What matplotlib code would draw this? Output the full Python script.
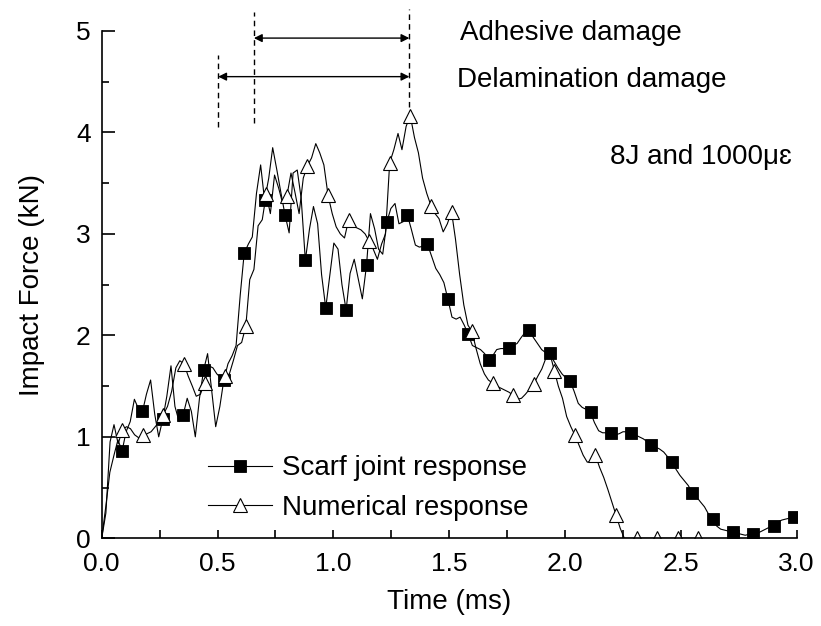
import matplotlib
matplotlib.use("Agg")
import matplotlib.pyplot as plt
from matplotlib.ticker import MultipleLocator

plt.rcParams['font.family'] = ['Liberation Sans', 'DejaVu Sans']

# Scarf joint (experiment): time in ms, force in kN
scarf_time = [
    0.000, 0.018, 0.035, 0.053, 0.070, 0.088, 0.105, 0.123, 0.141, 0.158,
    0.176, 0.193, 0.211, 0.229, 0.246, 0.264, 0.281, 0.299, 0.316, 0.334,
    0.352, 0.369, 0.387, 0.404, 0.422, 0.440, 0.457, 0.475, 0.492, 0.510,
    0.527, 0.545, 0.563, 0.580, 0.598, 0.615, 0.633, 0.650, 0.668, 0.686,
    0.703, 0.721, 0.738, 0.756, 0.774, 0.791, 0.809, 0.826, 0.844, 0.861,
    0.879, 0.897, 0.914, 0.932, 0.949, 0.967, 0.985, 1.002, 1.020, 1.037,
    1.055, 1.072, 1.090, 1.108, 1.125, 1.143, 1.160, 1.178, 1.195, 1.213,
    1.231, 1.248, 1.266, 1.283, 1.301, 1.319, 1.336, 1.354, 1.371, 1.389,
    1.406, 1.424, 1.442, 1.459, 1.477, 1.494, 1.512, 1.530, 1.547, 1.565,
    1.582, 1.600, 1.617, 1.635, 1.653, 1.670, 1.688, 1.705, 1.723, 1.740,
    1.758, 1.776, 1.793, 1.811, 1.828, 1.846, 1.863, 1.881, 1.899, 1.916,
    1.934, 1.951, 1.969, 1.987, 2.004, 2.022, 2.039, 2.057, 2.074, 2.092,
    2.110, 2.127, 2.145, 2.162, 2.180, 2.198, 2.215, 2.233, 2.250, 2.268,
    2.285, 2.303, 2.321, 2.338, 2.356, 2.373, 2.391, 2.408, 2.426, 2.444,
    2.461, 2.479, 2.496, 2.514, 2.532, 2.549, 2.567, 2.584, 2.602, 2.619,
    2.637, 2.655, 2.672, 2.690, 2.707, 2.725, 2.743, 2.760, 2.778, 2.795,
    2.813, 2.831, 2.848, 2.866, 2.883, 2.901, 2.918, 2.936, 2.954, 2.971,
    2.989,
]
scarf_force = [
    0.00, 0.32, 0.65, 0.82, 0.97, 0.86,
    1.05, 1.15, 1.37, 1.28, 1.25,
    1.42, 1.56, 1.22, 1.00, 1.18,
    1.40, 1.70, 1.30, 1.15, 1.22,
    1.38, 1.25, 1.00, 1.38, 1.66,
    1.82, 1.45, 1.10, 1.30, 1.56,
    1.72, 1.80, 1.90, 2.40, 2.81,
    2.90, 2.97, 3.40, 3.68, 3.33,
    3.55, 3.85, 3.63, 3.40, 3.19,
    3.01, 3.60, 3.63, 3.35, 2.74,
    3.05, 3.27, 3.10, 2.60, 2.27,
    2.60, 2.91, 2.85, 2.50, 2.25,
    2.61, 2.75, 2.55, 2.36, 2.69,
    3.20, 3.05, 2.85, 2.80, 3.12,
    3.25, 3.30, 3.10, 3.12, 3.19,
    3.05, 2.89, 2.87, 2.88, 2.90,
    2.78, 2.66, 2.60, 2.52, 2.36,
    2.18, 2.16, 2.18, 2.10, 2.01,
    1.90, 1.88, 1.86, 1.82, 1.76,
    1.80, 1.86, 1.87, 1.87, 1.88,
    1.90, 1.92, 1.98, 2.03, 2.05,
    1.98, 1.92, 1.86, 1.83, 1.83,
    1.75, 1.68, 1.62, 1.58, 1.55,
    1.45, 1.33, 1.29, 1.27, 1.24,
    1.14, 1.06, 1.04, 1.04, 1.04,
    1.02, 1.03, 1.05, 1.05, 1.04,
    1.02, 1.00, 0.98, 0.95, 0.92,
    0.90, 0.88, 0.85, 0.80, 0.755,
    0.68, 0.62, 0.57, 0.52, 0.45,
    0.41, 0.36, 0.31, 0.24, 0.19,
    0.12, 0.09, 0.08, 0.07, 0.06,
    0.05, 0.04, 0.03, 0.04, 0.04,
    0.05, 0.07, 0.09, 0.11, 0.12,
    0.16, 0.18, 0.19, 0.20, 0.21,
]

# Numerical model: time in ms, force in kN
num_time = [
    0.000, 0.018, 0.036, 0.053, 0.071, 0.089, 0.107, 0.124, 0.142, 0.160,
    0.178, 0.195, 0.213, 0.231, 0.249, 0.266, 0.284, 0.302, 0.320, 0.337,
    0.355, 0.373, 0.391, 0.408, 0.426, 0.444, 0.462, 0.480, 0.497, 0.515,
    0.533, 0.551, 0.568, 0.586, 0.604, 0.622, 0.639, 0.657, 0.675, 0.693,
    0.710, 0.728, 0.746, 0.764, 0.781, 0.799, 0.817, 0.835, 0.852, 0.870,
    0.888, 0.906, 0.924, 0.941, 0.959, 0.977, 0.995, 1.012, 1.030, 1.048,
    1.066, 1.083, 1.101, 1.119, 1.137, 1.154, 1.172, 1.190, 1.208, 1.225,
    1.243, 1.261, 1.279, 1.296, 1.314, 1.332, 1.350, 1.367, 1.385, 1.403,
    1.421, 1.439, 1.456, 1.474, 1.492, 1.510, 1.527, 1.545, 1.563, 1.581,
    1.598, 1.616, 1.634, 1.652, 1.669, 1.687, 1.705, 1.723, 1.740, 1.758,
    1.776, 1.794, 1.812, 1.829, 1.847, 1.865, 1.883, 1.900, 1.918, 1.936,
    1.954, 1.971, 1.989, 2.007, 2.025, 2.042, 2.060, 2.078, 2.096, 2.114,
    2.131, 2.149, 2.167, 2.185, 2.202, 2.220, 2.238, 2.256, 2.273, 2.291,
    2.309, 2.327, 2.345, 2.362, 2.380, 2.398, 2.416, 2.434, 2.451, 2.469,
    2.487, 2.505, 2.522, 2.540, 2.558, 2.575,
]
num_force = [
    0.00, 0.25, 0.95, 1.12, 0.93, 1.07,
    1.10, 1.08, 1.02, 0.99, 1.02,
    1.03, 1.05, 1.10, 1.15, 1.22,
    1.30, 1.45, 1.68, 1.75, 1.72,
    1.60, 1.50, 1.40, 1.42, 1.53,
    1.70, 1.68, 1.62, 1.58, 1.60,
    1.62, 1.75, 1.90, 1.93, 2.09,
    2.55, 2.65, 3.08, 3.14, 3.39,
    3.20, 3.58, 3.45, 3.30, 3.37,
    3.60, 3.40, 3.20, 3.55, 3.67,
    3.75, 3.89, 3.80, 3.68, 3.38,
    3.20, 3.07, 3.00, 2.96, 3.14,
    3.08, 3.06, 3.04, 3.00, 2.93,
    2.85, 2.75, 2.90, 3.00, 3.70,
    3.83, 3.99, 3.83, 4.06, 4.165,
    3.95, 3.80, 3.55, 3.40, 3.28,
    3.20, 3.15, 3.02, 3.10, 3.22,
    2.95, 2.60, 2.30, 2.10, 2.04,
    1.87, 1.72, 1.62, 1.56, 1.53,
    1.50, 1.48, 1.46, 1.44, 1.41,
    1.37, 1.38, 1.42, 1.47, 1.52,
    1.60, 1.67, 1.78, 1.81, 1.65,
    1.50, 1.38, 1.20, 1.10, 1.02,
    0.92, 0.82, 0.75, 0.76, 0.82,
    0.70, 0.60, 0.48, 0.36, 0.23,
    0.10, 0.00, 0.00, 0.00, 0.00,
    0.00, 0.00, 0.00, 0.00, 0.00,
    0.00, 0.00, 0.00, 0.00, 0.00,
    0.00, 0.00, 0.00, 0.00, 0.00,
]

series_labels = ["Scarf joint response", "Numerical response"]

# Damage windows (ms) and the heights of their arrows (kN)
adhesive_start, adhesive_end, adhesive_level = 0.657, 1.328, 4.93
delam_start, delam_end, delam_level = 0.503, 1.328, 4.55

fig = plt.figure(figsize=(8.21, 6.26), dpi=100)
ax = fig.add_axes([0.1239, 0.1401, 0.8465, 0.8104])

ax.plot(scarf_time, scarf_force, color='black', lw=0.8,
        marker='s', ms=8.6, mfc='black', mec='black', mew=0.6,
        markevery=(5, 5), label=series_labels[0])
ax.plot(num_time, num_force, color='black', lw=0.8,
        marker='^', ms=10, mfc='white', mec='black', mew=0.8,
        markevery=(5, 5), label=series_labels[1])

ax.set_xlim(0, 3.0)
ax.set_ylim(0, 5)
ax.xaxis.set_major_locator(MultipleLocator(0.5))
ax.xaxis.set_minor_locator(MultipleLocator(0.25))
ax.yaxis.set_major_locator(MultipleLocator(1))
ax.yaxis.set_minor_locator(MultipleLocator(0.5))
ax.xaxis.set_major_formatter(plt.FuncFormatter(lambda v, p: f"{v:.1f}"))

for side in ('top', 'right'):
    ax.spines[side].set_visible(False)
for side in ('left', 'bottom'):
    ax.spines[side].set_linewidth(1.2)

ax.tick_params(axis='both', which='both', direction='in', width=1.2,
               labelsize=19)
ax.tick_params(axis='x', which='major', length=6, pad=10)
ax.tick_params(axis='x', which='minor', length=6)
ax.tick_params(axis='y', which='major', length=9, pad=8)
ax.tick_params(axis='y', which='minor', length=5)

ax.set_xlabel("Time (ms)", fontsize=20, labelpad=9)
ax.set_ylabel("Impact Force (kN)", fontsize=20, labelpad=22)

# Dashed markers bounding the damage windows
dash = dict(color='black', lw=1.0, ls=(0, (4, 3)), clip_on=False)
ax.plot([delam_start, delam_start], [4.05, 4.76], **dash)
ax.plot([adhesive_start, adhesive_start], [4.09, 5.19], **dash)
ax.plot([adhesive_end, adhesive_end], [4.25, 5.22], **dash)

arrow = dict(arrowstyle='<|-|>', color='black', lw=1.0,
             mutation_scale=12, shrinkA=0, shrinkB=0)
ax.annotate("", xy=(adhesive_start, adhesive_level),
            xytext=(adhesive_end, adhesive_level),
            arrowprops=arrow, annotation_clip=False)
ax.annotate("", xy=(delam_start, delam_level),
            xytext=(delam_end, delam_level),
            arrowprops=arrow, annotation_clip=False)

ax.text(1.546, 4.98, "Adhesive damage", fontsize=20, va='center',
        ha='left', clip_on=False)
ax.text(1.534, 4.52, "Delamination damage", fontsize=20, va='center',
        ha='left', clip_on=False)
ax.text(2.194, 3.76, "8J and 1000μɛ", fontsize=20, va='center', ha='left')

ax.legend(loc='center left', bbox_to_anchor=(0.153, 0.099), frameon=False,
          fontsize=20, handlelength=2.3, handletextpad=0.36,
          labelspacing=0.48, borderpad=0, borderaxespad=0)

fig.savefig("out.png", dpi=100)
